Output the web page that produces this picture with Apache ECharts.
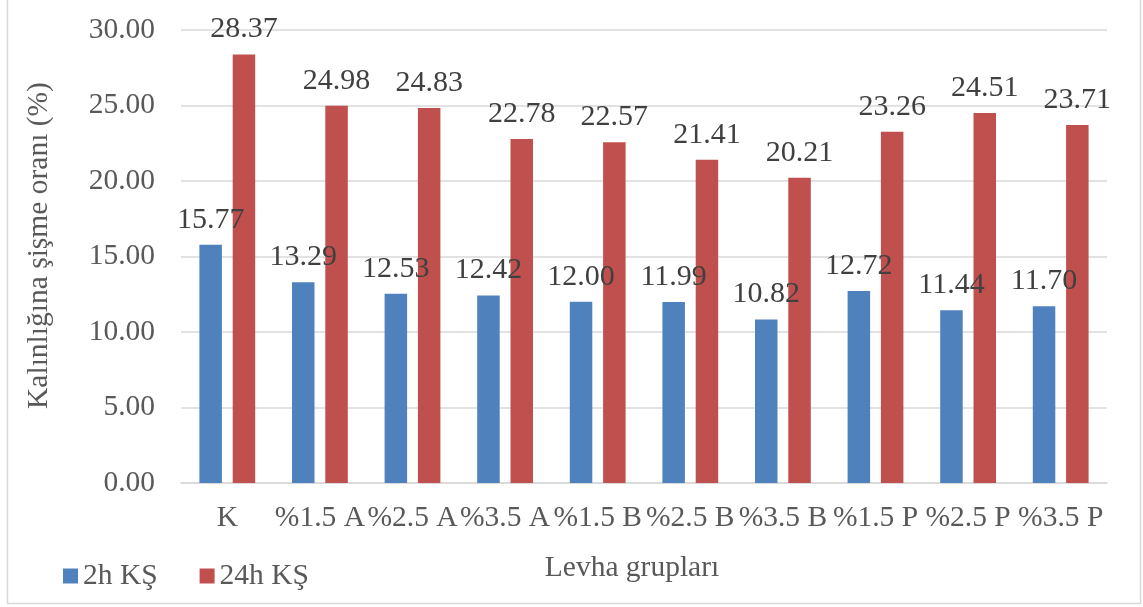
<!DOCTYPE html>
<html>
<head>
<meta charset="utf-8">
<script src="https://cdn.jsdelivr.net/npm/echarts@6/dist/echarts.min.js"></script>
<style>
  html, body { margin: 0; padding: 0; background: #ffffff; }
  #chart { width: 1143px; height: 607px; }
</style>
</head>
<body>
<div id="chart"></div>
<script>
// Board groups and thickness swelling ratios (%)
const categories = ['K', '%1.5 A', '%2.5 A', '%3.5 A', '%1.5 B', '%2.5 B', '%3.5 B', '%1.5 P', '%2.5 P', '%3.5 P'];
const swelling2h = [15.77, 13.29, 12.53, 12.42, 12.00, 11.99, 10.82, 12.72, 11.44, 11.70];
const swelling24h = [28.37, 24.98, 24.83, 22.78, 22.57, 21.41, 20.21, 23.26, 24.51, 23.71];
const seriesNames = ['2h KŞ', '24h KŞ'];
const yAxisTitle = 'Kalınlığına şişme oranı (%)';
const xAxisTitle = 'Levha grupları';

const FONT = "'Liberation Serif', 'Times New Roman', serif";
const FONT_SIZE = 29.5;
const AXIS_TEXT = '#595959';
const LABEL_TEXT = '#404040';
const GRID_COLOR = '#d9d9d9';

const chart = echarts.init(document.getElementById('chart'), null, { renderer: 'canvas' });

function barLabel() {
  return {
    show: true,
    position: 'top',
    distance: 10,
    color: LABEL_TEXT,
    fontFamily: FONT,
    fontSize: 30,
    formatter: p => p.value.toFixed(2)
  };
}

chart.setOption({
  backgroundColor: '#ffffff',
  animation: false,
  textStyle: { fontFamily: FONT },
  graphic: [{
    type: 'rect',
    shape: { x: 7.5, y: -1, width: 1133, height: 604.5 },
    style: { fill: 'none', stroke: GRID_COLOR, lineWidth: 1.5 },
    silent: true
  }],
  grid: { left: 181, right: 36, top: 30, bottom: 124, containLabel: false },
  legend: {
    data: seriesNames,
    left: 58,
    top: 556,
    icon: 'rect',
    itemWidth: 15,
    itemHeight: 15,
    itemGap: 42,
    textStyle: { color: AXIS_TEXT, fontFamily: FONT, fontSize: FONT_SIZE }
  },
  xAxis: {
    type: 'category',
    data: categories,
    name: xAxisTitle,
    nameLocation: 'middle',
    nameGap: 70,
    nameTextStyle: { color: AXIS_TEXT, fontFamily: FONT, fontSize: FONT_SIZE, padding: [0, 24, 0, 0] },
    axisLine: { show: true, lineStyle: { color: GRID_COLOR, width: 1.5 } },
    axisTick: { show: false },
    axisLabel: { interval: 0, color: AXIS_TEXT, fontFamily: FONT, fontSize: FONT_SIZE, margin: 20 }
  },
  yAxis: {
    type: 'value',
    min: 0,
    max: 30,
    interval: 5,
    name: yAxisTitle,
    nameLocation: 'middle',
    nameGap: 127,
    nameTextStyle: { color: AXIS_TEXT, fontFamily: FONT, fontSize: FONT_SIZE, padding: [0, 0, 0, 22] },
    axisLine: { show: false },
    axisTick: { show: false },
    splitLine: { lineStyle: { color: GRID_COLOR, width: 1.5 } },
    axisLabel: { color: AXIS_TEXT, fontFamily: FONT, fontSize: FONT_SIZE, margin: 26, formatter: v => v.toFixed(2) }
  },
  series: [
    {
      name: seriesNames[0],
      type: 'bar',
      data: swelling2h,
      barWidth: 22.5,
      barGap: '48%',
      itemStyle: { color: '#4f81bd' },
      label: barLabel()
    },
    {
      name: seriesNames[1],
      type: 'bar',
      data: swelling24h,
      barWidth: 22.5,
      barGap: '48%',
      itemStyle: { color: '#c0504d' },
      label: barLabel()
    }
  ]
});
</script>
</body>
</html>
